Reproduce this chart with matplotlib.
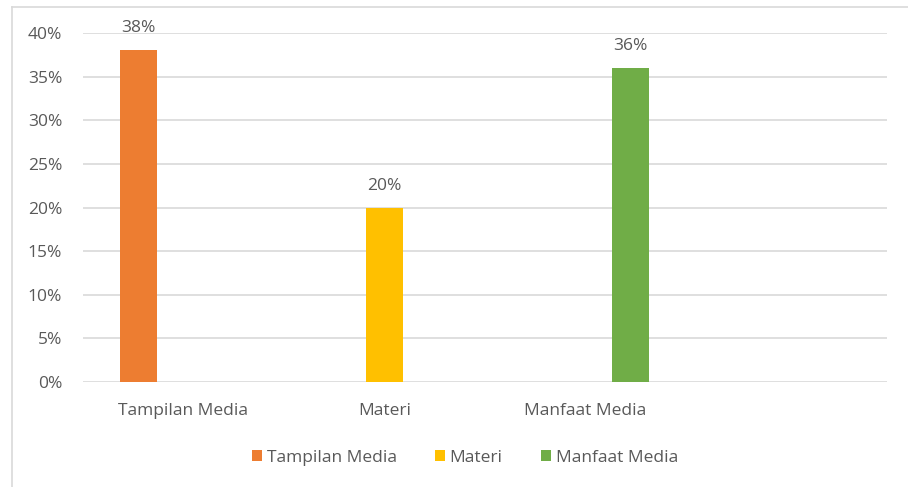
import numpy as np
import matplotlib.pyplot as plt
from matplotlib.lines import Line2D

# data
categories = ['Tampilan Media', 'Materi', 'Manfaat Media', '']
series = ['Tampilan Media', 'Materi', 'Manfaat Media']
values = [
    [38, 0, 0, 0],   # Tampilan Media
    [0, 20, 0, 0],   # Materi
    [0, 0, 36, 0],   # Manfaat Media
]
colors = ['#ED7D31', '#FFC000', '#70AD47']

plt.rcParams['font.family'] = ['Open Sans', 'DejaVu Sans']
txt = '#595959'
grid = '#D9D9D9'
fs = 12.5

fig = plt.figure(figsize=(9.08, 4.87), dpi=100)
ax = fig.add_axes([83 / 908, 105 / 487, 804 / 908, 349 / 487])

x = np.arange(len(categories))
w = 0.184
offs = [-0.224, 0, 0.224]

for s in range(len(series)):
    ax.bar(x + offs[s], values[s], width=w, color=colors[s], label=series[s], zorder=3)
    for xi, v in zip(x, values[s]):
        if v > 0:
            ax.text(xi + offs[s], v + 1.6, f'{v}%', ha='center', va='bottom',
                    fontsize=fs, color=txt)

ax.set_xlim(-0.5, len(categories) - 0.5)
ax.set_ylim(0, 40)
ax.set_yticks(range(0, 41, 5))
ax.set_yticklabels([f'{t}%' for t in range(0, 41, 5)])
ax.set_xticks(x)
ax.set_xticklabels(categories)
ax.tick_params(axis='both', length=0, labelsize=fs, colors=txt)
ax.tick_params(axis='x', pad=15)
ax.tick_params(axis='y', pad=15)
ax.grid(axis='y', color=grid, linewidth=1.2, zorder=0)
for sp in ax.spines.values():
    sp.set_visible(False)

leg = ax.legend(loc='upper center', bbox_to_anchor=(0.475, -0.15), ncol=3,
                frameon=False, fontsize=fs, handlelength=0.6, handleheight=0.6,
                handletextpad=0.25, columnspacing=2.2)
for t in leg.get_texts():
    t.set_color(txt)

# outer chart frame (left and top edges visible)
fig.add_artist(Line2D([12 / 908, 12 / 908], [0, 480 / 487], color=grid, linewidth=1.2))
fig.add_artist(Line2D([12 / 908, 1], [480 / 487, 480 / 487], color=grid, linewidth=1.2))

fig.savefig('out.png', dpi=100)
